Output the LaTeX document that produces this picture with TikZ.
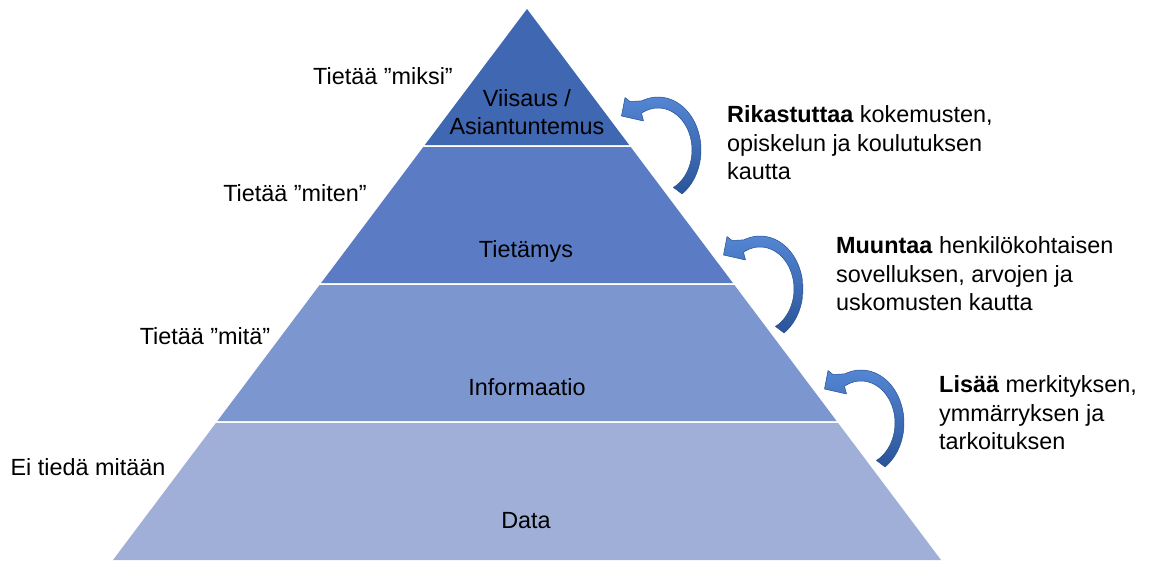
\documentclass[tikz,border=0pt]{standalone}
\usepackage{fontspec}
\setmainfont{Liberation Sans}
\definecolor{lvlA}{RGB}{63,103,178}
\definecolor{lvlB}{RGB}{91,124,196}
\definecolor{lvlC}{RGB}{124,150,207}
\definecolor{lvlD}{RGB}{160,175,216}
\definecolor{arrowLight}{RGB}{84,134,212}
\definecolor{arrowDark}{RGB}{42,84,152}
\definecolor{arrowEdge}{RGB}{40,80,145}
\begin{document}
\begin{tikzpicture}[x=1pt,y=-1pt,
  lbl/.style={inner sep=0pt,font=\fontsize{23.4}{28.5}\selectfont},
  side/.style={lbl,anchor=west,align=left},
  curvearrow/.style={top color=arrowLight,bottom color=arrowDark,draw=arrowEdge,line width=0.5pt,line join=round}]
\fill[white] (0,0) rectangle (1149,560);
\useasboundingbox (0,0) rectangle (1149,560);

% pyramid levels (apex at 527,9; half width = 0.7514*(y-9))
\fill[lvlA] (527,9) -- (629.2,145) -- (424.8,145) -- cycle;
\fill[lvlB] (423.3,147) -- (630.7,147) -- (732.9,283) -- (321.1,283) -- cycle;
\fill[lvlC] (319.6,285) -- (734.4,285) -- (836.6,421) -- (217.4,421) -- cycle;
\fill[lvlD] (215.9,423) -- (838.1,423) -- (941,560) -- (113,560) -- cycle;

% level names
\node[lbl,align=center] (wis) at (527,112) {Viisaus /\\Asiantuntemus};
\node[lbl] (kno) at (526,251) {Tietämys};
\node[lbl] (inf) at (527,387) {Informaatio};
\node[lbl] (dat) at (526,521) {Data};

% knowing levels on the left
\node[lbl] (why) at (383,76) {Tietää ”miksi”};
\node[lbl] (how) at (295,193) {Tietää ”miten”};
\node[lbl] (what) at (205,336) {Tietää ”mitä”};
\node[lbl] (none) at (88,467) {Ei tiedä mitään};

% curved arrows between levels: outer and inner elliptic arcs plus a head
\foreach \dx/\dy in {0/0, 102/139, 203/273}{
  \begin{scope}[shift={(\dx,\dy)}]
    \path[curvearrow] plot[domain=56:-112,samples=50] ({658+43*cos(\x)},{150+53*sin(\x)})
      -- (630,101.5) -- (625,97.5) -- (621.5,116) -- (643.5,121)
      -- plot[domain=-119:63,samples=50] ({658+34*cos(\x)},{150+42*sin(\x)}) -- cycle;
  \end{scope}
}

% transformation notes on the right
\node[side] (enr) at (727,143) {\textbf{Rikastuttaa} kokemusten,\\opiskelun ja koulutuksen\\kautta};
\node[side] (tra) at (836,274) {\textbf{Muuntaa} henkilökohtaisen\\sovelluksen, arvojen ja\\uskomusten kautta};
\node[side] (add) at (939,413) {\textbf{Lisää} merkityksen,\\ymmärryksen ja\\tarkoituksen};
\end{tikzpicture}
\end{document}
